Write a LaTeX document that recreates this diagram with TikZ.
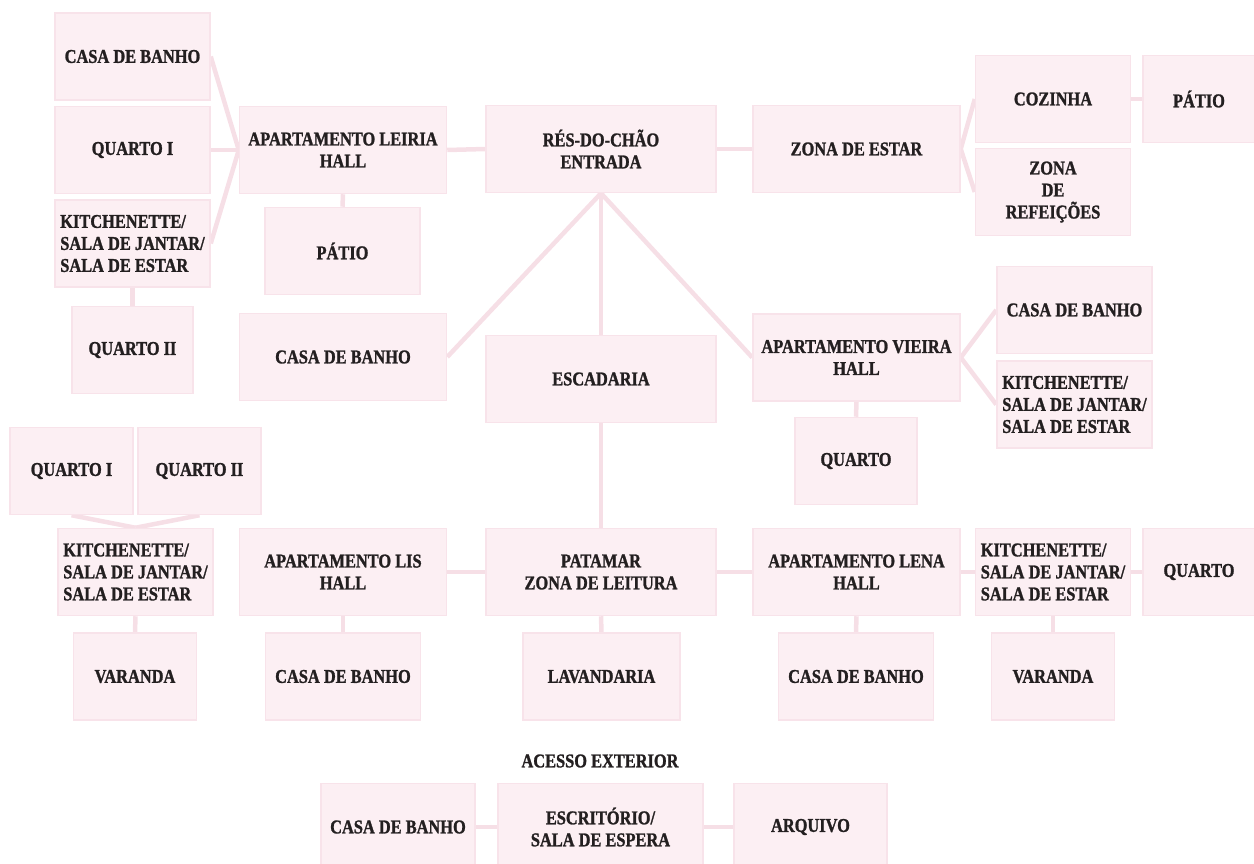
\documentclass[tikz,border=0pt]{standalone}
\usepackage{fontspec}
\setmainfont[FakeStretch=0.84, BoldFeatures={FakeBold=1.3}]{Liberation Serif}
\usetikzlibrary{backgrounds}
\definecolor{roomfill}{HTML}{FCEFF3}
\definecolor{roomedge}{HTML}{F8E3EA}
\definecolor{linkcol}{HTML}{F6DFE6}
\definecolor{txt}{HTML}{231F20}
\begin{document}
\begin{tikzpicture}[x=1pt,y=-1pt,
  room/.style={draw=roomedge, fill=roomfill, line width=1.5pt, inner sep=0pt,
    align=center, text=txt, font=\fontsize{19.5}{22}\selectfont\bfseries},
  lroom/.style={room, align=left},
  label/.style={text=txt, inner sep=0pt, font=\fontsize{19.5}{22}\selectfont\bfseries},
  link/.style={draw=linkcol, line width=4.5pt}]
\useasboundingbox (0,0) rectangle (1254,864);
% --- Leiria
\node[room, minimum width=155pt, minimum height=87pt] (lcb) at (132.5,56.5) {CASA DE BANHO};
\node[room, minimum width=155pt, minimum height=87pt] (lq1) at (132.5,150) {QUARTO I};
\node[lroom, minimum width=155pt, minimum height=87pt] (lk) at (132.5,243.5) {KITCHENETTE/\\SALA DE JANTAR/\\SALA DE ESTAR};
\node[room, minimum width=121pt, minimum height=87pt] (lq2) at (132.5,350) {QUARTO II};
\node[room, minimum width=207pt, minimum height=87pt] (leiria) at (343,150) {APARTAMENTO LEIRIA\\HALL};
\node[room, minimum width=155pt, minimum height=87pt] (lpatio) at (342.5,251) {PÁTIO};
% --- centre
\node[room, minimum width=230pt, minimum height=87pt] (entrada) at (601,149) {RÉS-DO-CHÃO\\ENTRADA};
\node[room, minimum width=207pt, minimum height=87pt] (zona) at (856.5,149) {ZONA DE ESTAR};
\node[room, minimum width=155pt, minimum height=87pt] (coz) at (1053,99) {COZINHA};
\node[room, minimum width=112pt, minimum height=87pt] (zpatio) at (1199,99) {PÁTIO};
\node[room, minimum width=155pt, minimum height=87pt] (refe) at (1053,192) {ZONA\\DE\\REFEIÇÕES};
\node[room, minimum width=207pt, minimum height=87pt] (ccb) at (343,357) {CASA DE BANHO};
\node[room, minimum width=230pt, minimum height=87pt] (esc) at (601,379) {ESCADARIA};
% --- Vieira
\node[room, minimum width=207pt, minimum height=87pt] (vieira) at (856.5,357.5) {APARTAMENTO VIEIRA\\HALL};
\node[room, minimum width=155pt, minimum height=87pt] (vcb) at (1074.5,310) {CASA DE BANHO};
\node[lroom, minimum width=155pt, minimum height=87pt] (vk) at (1074.5,404.5) {KITCHENETTE/\\SALA DE JANTAR/\\SALA DE ESTAR};
\node[room, minimum width=122pt, minimum height=87pt] (vq) at (856,461) {QUARTO};
% --- Lis
\node[room, minimum width=123pt, minimum height=87pt] (bq1) at (71.5,471) {QUARTO I};
\node[room, minimum width=123pt, minimum height=87pt] (bq2) at (199.5,471) {QUARTO II};
\node[lroom, minimum width=155pt, minimum height=87pt] (bk) at (135.5,572) {KITCHENETTE/\\SALA DE JANTAR/\\SALA DE ESTAR};
\node[room, minimum width=207pt, minimum height=87pt] (lis) at (343,572) {APARTAMENTO LIS\\HALL};
\node[room, minimum width=123pt, minimum height=87pt] (bvar) at (135,676.5) {VARANDA};
\node[room, minimum width=155pt, minimum height=87pt] (liscb) at (343,676.5) {CASA DE BANHO};
% --- Patamar
\node[room, minimum width=230pt, minimum height=87pt] (pat) at (601,572) {PATAMAR\\ZONA DE LEITURA};
\node[room, minimum width=157pt, minimum height=87pt] (lav) at (601.5,676.5) {LAVANDARIA};
% --- Lena
\node[room, minimum width=207pt, minimum height=87pt] (lena) at (856.5,572) {APARTAMENTO LENA\\HALL};
\node[lroom, minimum width=155pt, minimum height=87pt] (ek) at (1053,572) {KITCHENETTE/\\SALA DE JANTAR/\\SALA DE ESTAR};
\node[room, minimum width=112pt, minimum height=87pt] (eq) at (1199,572) {QUARTO};
\node[room, minimum width=155pt, minimum height=87pt] (lenacb) at (856,676.5) {CASA DE BANHO};
\node[room, minimum width=123pt, minimum height=87pt] (evar) at (1053,676.5) {VARANDA};
% --- exterior access
\node[label] (acesso) at (600,761) {ACESSO EXTERIOR};
\node[room, minimum width=154pt, minimum height=87pt] (xcb) at (398,827) {CASA DE BANHO};
\node[room, minimum width=205pt, minimum height=87pt] (xesc) at (600.5,827) {ESCRITÓRIO/\\SALA DE ESPERA};
\node[room, minimum width=153pt, minimum height=87pt] (xarq) at (810.5,827) {ARQUIVO};
% --- connectors
\begin{scope}[on background layer]
\draw[link] (lcb.east) -- (leiria.west);
\draw[link] (lq1.east) -- (leiria.west);
\draw[link] (lk.east) -- (leiria.west);
\draw[link] (lk.south) -- (lq2.north);
\draw[link] (leiria.south) -- (lpatio.north);
\draw[link] (leiria.east) -- (entrada.west);
\draw[link] (entrada.east) -- (zona.west);
\draw[link] (zona.east) -- (coz.west);
\draw[link] (zona.east) -- (refe.west);
\draw[link] (coz.east) -- (zpatio.west);
\draw[link] (entrada.south) -- (ccb.east);
\draw[link] (entrada.south) -- (esc.north);
\draw[link] (entrada.south) -- (vieira.west);
\draw[link] (vieira.east) -- (vcb.west);
\draw[link] (vieira.east) -- (vk.west);
\draw[link] (vieira.south) -- (vq.north);
\draw[link] (esc.south) -- (pat.north);
\draw[link] (bq1.south) -- (bk.north);
\draw[link] (bq2.south) -- (bk.north);
\draw[link] (bk.south) -- (bvar.north);
\draw[link] (lis.east) -- (pat.west);
\draw[link] (lis.south) -- (liscb.north);
\draw[link] (pat.east) -- (lena.west);
\draw[link] (pat.south) -- (lav.north);
\draw[link] (lena.east) -- (ek.west);
\draw[link] (lena.south) -- (lenacb.north);
\draw[link] (ek.east) -- (eq.west);
\draw[link] (ek.south) -- (evar.north);
\draw[link] (xcb.east) -- (xesc.west);
\draw[link] (xesc.east) -- (xarq.west);
\end{scope}
\end{tikzpicture}
\end{document}
